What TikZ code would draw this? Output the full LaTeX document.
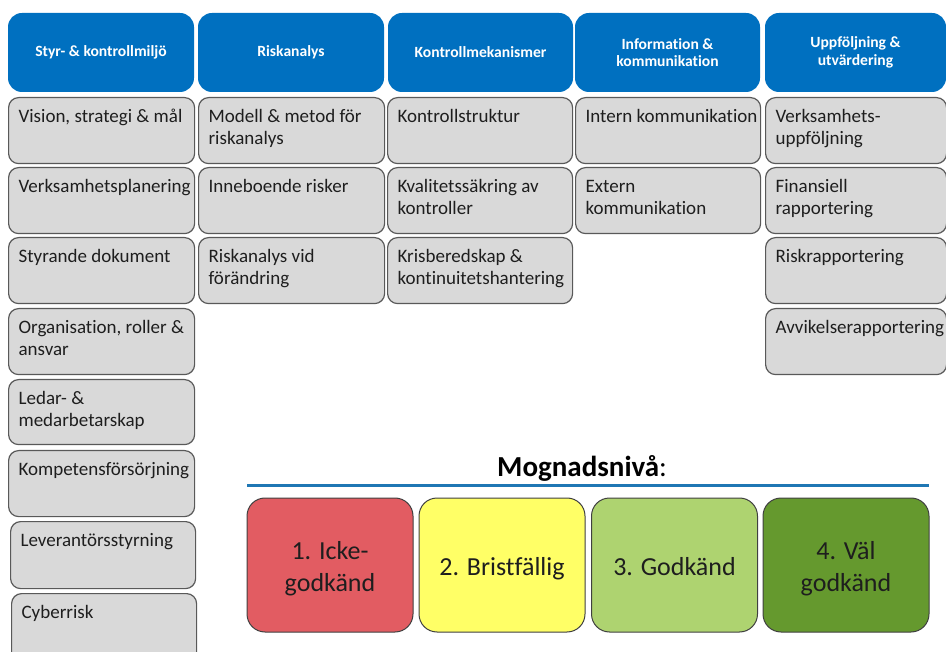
\documentclass[tikz,border=0pt]{standalone}
\usepackage{fontspec}
\setmainfont{Carlito}[RawFeature={-liga;-dlig;-calt}]
\definecolor{hblue}{RGB}{0,112,192}
\definecolor{gfill}{RGB}{217,217,217}
\definecolor{gborder}{RGB}{89,89,89}
\definecolor{gtext}{RGB}{30,30,30}
\definecolor{lblue}{RGB}{31,119,180}
\definecolor{cred}{RGB}{226,92,98}
\definecolor{cyellow}{RGB}{255,255,102}
\definecolor{clgreen}{RGB}{174,211,112}
\definecolor{cdgreen}{RGB}{101,153,46}
\definecolor{lborder}{RGB}{64,64,64}
\tikzset{
  hbox/.style={fill=hblue, rounded corners=14pt, inner sep=0pt, text=white,
    font=\fontsize{15.6}{17.5}\selectfont\bfseries, align=center},
  gboxs/.style={draw=gborder, line width=1.2pt, fill=gfill, rounded corners=10pt,
    inner sep=0pt, text=gtext, font=\fontsize{19}{21.5}\selectfont},
  lbox/.style={draw=lborder, line width=1pt, rounded corners=18pt, inner sep=0pt,
    text=gtext, font=\fontsize{26}{32}\selectfont, align=center,
    minimum width=166pt, minimum height=134pt},
  ttl/.style={font=\fontsize{29}{34}\selectfont, text=black, inner sep=0pt},
  rule/.style={line width=3pt, draw=lblue},
}
\newcommand{\hb}[6]{%
  \pgfmathsetmacro\bw{#4-#2}\pgfmathsetmacro\bh{#5-#3}%
  \pgfmathsetmacro\cx{(#2+#4)/2}\pgfmathsetmacro\cy{(#3+#5)/2}%
  \node[hbox, minimum width=\bw pt, minimum height=\bh pt] (#1) at (\cx,\cy) {#6};}
\newcommand{\gb}[6]{%
  \pgfmathsetmacro\bw{#4-#2}\pgfmathsetmacro\bh{#5-#3}%
  \node[gboxs, anchor=north west] (#1) at (#2,#3)
    {\parbox[c][\bh pt][t]{\bw pt}{\leftskip=10pt\rightskip=-20pt plus 1fil\parfillskip=0pt plus 1fil\rule{0pt}{25pt}#6}};}
\newcommand{\lv}[1]{\raisebox{-4pt}[\height][\depth]{\begin{tabular}{@{}c@{}}#1\end{tabular}}}
\begin{document}
\begin{tikzpicture}[x=1pt,y=-1pt]
\useasboundingbox (0,0) rectangle (946,652);
\clip (0,0) rectangle (946,652);
% headers
\hb{h1}{8}{13}{194}{92}{Styr- \& kontrollmiljö}
\hb{h2}{198}{13}{384}{92}{Riskanalys}
\hb{h3}{388}{13}{573}{92}{Kontrollmekanismer}
\hb{h4}{575}{13}{760}{92}{Information \&\\kommunikation}
\hb{h5}{765}{13}{946}{92}{Uppföljning \&\\utvärdering}
% column 1
\gb{a1}{8}{97}{194}{163}{Vision, strategi \& mål}
\gb{a2}{8}{167}{194}{233}{Verksamhetsplanering}
\gb{a3}{8}{237}{194}{303}{Styrande dokument}
\gb{a4}{8}{308}{194}{374}{Organisation, roller \&\\ansvar}
\gb{a5}{8}{379}{194}{444}{Ledar- \&\\medarbetarskap}
\gb{a6}{8}{450}{194}{516}{Kompetensförsörjning}
\gb{a7}{10}{521}{195}{588}{Leverantörsstyrning}
\gb{a8}{11}{593}{196}{662}{Cyberrisk}
% column 2
\gb{b1}{198}{97}{384}{163}{Modell \& metod för\\riskanalys}
\gb{b2}{198}{167}{384}{233}{Inneboende risker}
\gb{b3}{198}{237}{384}{303}{Riskanalys vid\\förändring}
% column 3
\gb{c1}{387}{97}{572}{163}{Kontrollstruktur}
\gb{c2}{387}{167}{572}{233}{Kvalitetssäkring av\\kontroller}
\gb{c3}{387}{237}{572}{303}{Krisberedskap \&\\kontinuitetshantering}
% column 4
\gb{d1}{575}{97}{760}{163}{Intern kommunikation}
\gb{d2}{575}{167}{760}{233}{Extern\\kommunikation}
% column 5
\gb{e1}{765}{97}{946}{163}{Verksamhets-\\uppföljning}
\gb{e2}{765}{167}{946}{233}{Finansiell\\rapportering}
\gb{e3}{765}{237}{946}{303}{Riskrapportering}
\gb{e4}{765}{308}{946}{374}{Avvikelserapportering}
% maturity
\node[ttl, anchor=base west] (title) at (497,477) {\bfseries Mognadsnivå\mdseries:};
\coordinate (la) at (247,485);
\coordinate (lb) at (929,485);
\draw[rule] (la) -- (lb);
\node[lbox, fill=cred] (m1) at (330,565) {\lv{1. Icke-\\godkänd}};
\node[lbox, fill=cyellow] (m2) at (502,565) {\lv{2. Bristfällig}};
\node[lbox, fill=clgreen] (m3) at (674.5,565) {\lv{3. Godkänd}};
\node[lbox, fill=cdgreen] (m4) at (846,565) {\lv{4. Väl\\godkänd}};
\end{tikzpicture}
\end{document}
